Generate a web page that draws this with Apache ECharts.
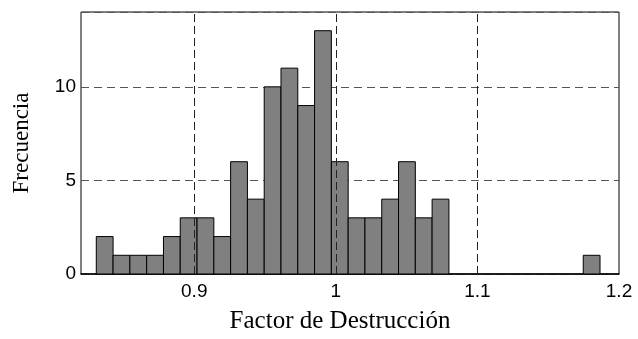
<!DOCTYPE html>
<html>
<head>
<meta charset="utf-8">
<script src="https://cdn.jsdelivr.net/npm/echarts@6/dist/echarts.min.js"></script>
<style>
    html, body { margin: 0; padding: 0; background: #fff; }
    #main { width: 638px; height: 339px; }
</style>
</head>
<body>
<div id="main"></div>
<script type="text/javascript">
    // histograma: 30 clases iguales
    var binStart = 0.8308;
    var binWidth = 0.01186;
    var counts = [2, 1, 1, 1, 2, 3, 3, 2, 6, 4, 10, 11, 9, 13, 6, 3, 3, 4, 6, 3, 4, 0, 0, 0, 0, 0, 0, 0, 0, 1];
    var xTicks = [0.9, 1, 1.1, 1.2];
    var yTicks = [0, 5, 10];
    var xGrid = [0.9, 1, 1.1];

    var bins = counts.map(function (c, i) {
        return [binStart + i * binWidth, binStart + (i + 1) * binWidth, c];
    });

    var myChart = echarts.init(document.getElementById('main'));

    var option = {
        animation: false,
        grid: {
            left: 81, right: 19, top: 12, bottom: 61,
            show: true,
            borderColor: '#000',
            borderWidth: 1
        },
        xAxis: {
            type: 'value',
            min: 0.82,
            max: 1.2,
            name: 'Factor de Destrucción',
            nameLocation: 'middle',
            nameGap: 35,
            nameTextStyle: { fontFamily: 'Liberation Serif', fontSize: 25, color: '#000', padding: [0, 20, 0, 0] },
            axisLine: { show: true, lineStyle: { color: '#000', width: 1.5 } },
            axisTick: { show: false },
            splitLine: { show: false },
            axisLabel: {
                customValues: xTicks,
                fontFamily: 'Liberation Sans',
                fontSize: 19,
                color: '#000',
                margin: 8
            }
        },
        yAxis: {
            type: 'value',
            min: 0,
            max: 14,
            name: 'Frecuencia',
            nameLocation: 'middle',
            nameGap: 48,
            nameTextStyle: { fontFamily: 'Liberation Serif', fontSize: 23, color: '#000' },
            axisLine: { show: false },
            axisTick: { show: false },
            splitLine: {
                show: true,
                lineStyle: { color: '#555', type: [8, 5], width: 1 }
            },
            interval: 5,
            axisLabel: {
                customValues: yTicks,
                fontFamily: 'Liberation Sans',
                fontSize: 19,
                color: '#000',
                margin: 5
            }
        },
        series: [{
            type: 'line',
            data: [],
            z: 1,
            silent: true,
            markLine: {
                symbol: 'none',
                silent: true,
                label: { show: false },
                lineStyle: { color: '#222', type: [8, 4], width: 1 },
                data: xGrid.map(function (v) { return { xAxis: v }; })
            }
        }, {
            type: 'custom',
            z: 2,
            data: bins,
            renderItem: function (params, api) {
                var p0 = api.coord([api.value(0), api.value(2)]);
                var p1 = api.coord([api.value(1), 0]);
                if (api.value(2) <= 0) return;
                return {
                    type: 'rect',
                    shape: { x: p0[0], y: p0[1], width: p1[0] - p0[0], height: p1[1] - p0[1] },
                    style: { fill: '#808080', stroke: '#000', lineWidth: 1 }
                };
            }
        }]
    };

    myChart.setOption(option);
</script>
</body>
</html>
